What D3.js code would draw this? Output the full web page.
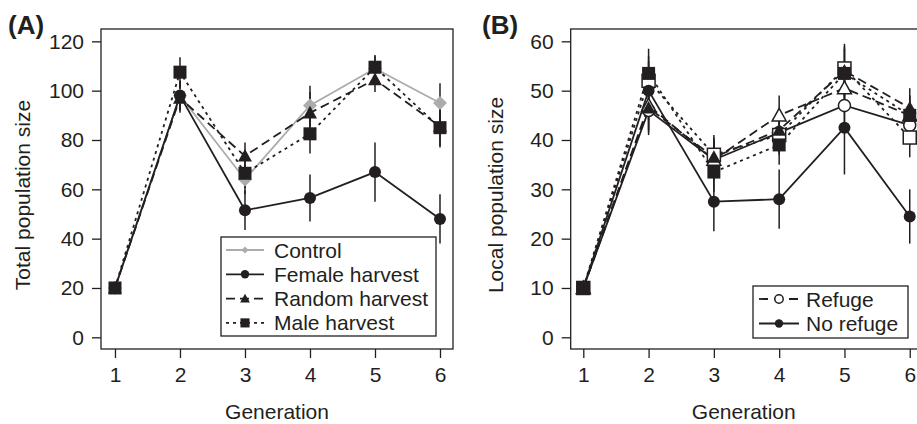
<html>
<head>
  <script src="https://d3js.org/d3.v7.min.js"></script>
  <style>
    body { margin: 0; background: #fff; }
    text { font-family: "Liberation Sans", Arial, sans-serif; fill: #231f20; }
  </style>
</head>
<body>
  <svg id="chart" width="917" height="424"></svg>
  <script>
    const generations = [1, 2, 3, 4, 5, 6];

    // panel A
    const ticksA = [0, 20, 40, 60, 80, 100, 120];
    const controlA = [20, 98, 64, 94, 109, 95];
    const femaleA = [20, 98, 51.5, 56.5, 67, 48];
    const randomA = [20, 97, 73.5, 91, 104.5, 85.5];
    const maleA = [20, 107.5, 66.5, 82.5, 109.5, 85];
    const controlErrA = [0, 6, 6, 8, 5, 8];
    const femaleErrA = [0, 6, 8, 9.5, 12, 10];
    const randomErrA = [0, 6, 5.5, 8.5, 5, 8];
    const maleErrA = [0, 6, 6, 8, 5, 8];

    // panel B
    const ticksB = [0, 10, 20, 30, 40, 50, 60];
    const femaleNoRefB = [10, 50, 27.5, 28, 42.5, 24.5];
    const femaleRefB = [10, 46, 36, 41.5, 47, 43];
    const randomNoRefB = [10, 46.5, 36.5, 42, 54, 46.5];
    const randomRefB = [10, 47, 36, 45, 50.5, 45];
    const maleNoRefB = [10, 53.5, 33.5, 39, 53.5, 45];
    const maleRefB = [10, 52, 37, 41, 54.5, 40.5];
    const femaleNoRefErrB = [0, 6, 6, 6, 9.5, 5.5];
    const otherErrB = [0, 5, 4, 4, 5, 4];

    const ink = "#231f20";
    const fs = 21;
    const svg = d3.select("#chart");

    function drawPanel(opt) {
      const x = d3.scaleLinear().domain(opt.xDomain).range([opt.left, opt.right]);
      const y = d3.scaleLinear().domain(opt.yDomain).range([opt.bottom, opt.top]);
      const g = svg.append("g");

      g.append("rect")
        .attr("x", opt.left).attr("y", opt.top)
        .attr("width", opt.right - opt.left).attr("height", opt.bottom - opt.top)
        .attr("fill", "none").attr("stroke", ink).attr("stroke-width", 1.3);

      const yAxis = g.append("g")
        .attr("transform", `translate(${opt.left},0)`)
        .call(d3.axisLeft(y).tickValues(opt.yTicks).tickSize(9).tickPadding(8));
      const xAxis = g.append("g")
        .attr("transform", `translate(0,${opt.bottom})`)
        .call(d3.axisBottom(x).tickValues(generations).tickFormat(d3.format("d")).tickSize(9).tickPadding(9));
      [xAxis, yAxis].forEach(a => {
        a.select(".domain").remove();
        a.selectAll("line").attr("stroke", ink).attr("stroke-width", 1.3);
        a.selectAll("text").attr("font-size", fs).attr("fill", ink)
          .style("font-family", '"Liberation Sans", Arial, sans-serif');
      });

      g.append("text")
        .attr("x", (opt.left + opt.right) / 2 - opt.titleShift).attr("y", 419)
        .attr("text-anchor", "middle").attr("font-size", fs)
        .text("Generation");
      g.append("text")
        .attr("transform", `translate(${opt.yLabelX},${(opt.top + opt.bottom) / 2 + 6}) rotate(-90)`)
        .attr("text-anchor", "middle").attr("font-size", fs)
        .text(opt.yLabel);
      g.append("text")
        .attr("x", opt.tagX).attr("y", 34)
        .attr("font-size", 26).attr("font-weight", "bold")
        .text(opt.tag);

      const line = d3.line().x((d, i) => x(generations[i])).y(d => y(d));

      opt.series.forEach(s => {
        g.append("path")
          .attr("d", line(s.values))
          .attr("fill", "none")
          .attr("stroke", s.color)
          .attr("stroke-width", 1.8)
          .attr("stroke-dasharray", s.dash);
      });

      opt.series.forEach(s => {
        s.values.forEach((v, i) => {
          const e = s.err[i];
          if (e > 0) {
            g.append("line")
              .attr("x1", x(generations[i])).attr("x2", x(generations[i]))
              .attr("y1", y(v - e)).attr("y2", y(v + e))
              .attr("stroke", ink).attr("stroke-width", 1.5);
          }
        });
      });

      opt.series.forEach(s => {
        s.values.forEach((v, i) => {
          drawMarker(g, s, x(generations[i]), y(v));
        });
      });

      return { x, y, g };
    }

    function drawMarker(g, s, cx, cy, scale = 1) {
      const fill = s.open ? "#fff" : s.markerColor;
      const stroke = s.markerColor;
      const sw = s.open ? 1.5 : 0;
      if (s.shape === "circle") {
        g.append("circle").attr("cx", cx).attr("cy", cy).attr("r", 6 * scale)
          .attr("fill", fill).attr("stroke", stroke).attr("stroke-width", sw);
      } else if (s.shape === "square") {
        const h = 6.5 * scale;
        g.append("rect").attr("x", cx - h).attr("y", cy - h)
          .attr("width", 2 * h).attr("height", 2 * h)
          .attr("fill", fill).attr("stroke", stroke).attr("stroke-width", sw);
      } else if (s.shape === "triangle") {
        const h = 7 * scale;
        g.append("path")
          .attr("d", `M${cx},${cy - h}L${cx + h},${cy + h * 0.8}L${cx - h},${cy + h * 0.8}Z`)
          .attr("fill", fill).attr("stroke", stroke).attr("stroke-width", sw);
      } else if (s.shape === "diamond") {
        const h = 7 * scale;
        g.append("path")
          .attr("d", `M${cx},${cy - h}L${cx + h},${cy}L${cx},${cy + h}L${cx - h},${cy}Z`)
          .attr("fill", fill);
      }
    }

    const dashRandom = "9,5";
    const dashMale = "3,4";

    // ---- Panel A
    const seriesA = [
      { name: "Control", values: controlA, err: controlErrA, color: "#acacac", markerColor: "#acacac", dash: null, shape: "diamond" },
      { name: "Female harvest", values: femaleA, err: femaleErrA, color: ink, markerColor: ink, dash: null, shape: "circle" },
      { name: "Random harvest", values: randomA, err: randomErrA, color: ink, markerColor: ink, dash: dashRandom, shape: "triangle" },
      { name: "Male harvest", values: maleA, err: maleErrA, color: ink, markerColor: ink, dash: dashMale, shape: "square" }
    ];

    const panelA = drawPanel({
      left: 101, right: 453, top: 29, bottom: 349,
      xDomain: [0.785, 6.2], yDomain: [-4.74, 125],
      yTicks: ticksA, yLabel: "Total population size", yLabelX: 30,
      tag: "(A)", tagX: 8, titleShift: 0,
      series: seriesA
    });

    // legend A
    const legA = panelA.g.append("g");
    legA.append("rect").attr("x", 221).attr("y", 237).attr("width", 215).attr("height", 99)
      .attr("fill", "#fff").attr("stroke", ink).attr("stroke-width", 1.3);
    seriesA.forEach((s, i) => {
      const ly = 250 + i * 24.3;
      legA.append("line").attr("x1", 226).attr("x2", 264).attr("y1", ly).attr("y2", ly)
        .attr("stroke", s.color).attr("stroke-width", 1.8).attr("stroke-dasharray", s.dash);
      drawMarker(legA, s, 245, ly, s.shape === "diamond" ? 0.5 : 0.7);
      legA.append("text").attr("x", 274).attr("y", ly + 7.5).attr("font-size", fs).text(s.name);
    });

    // ---- Panel B
    const seriesB = [
      { values: femaleRefB, err: otherErrB, color: ink, markerColor: ink, dash: null, shape: "circle", open: true },
      { values: randomRefB, err: otherErrB, color: ink, markerColor: ink, dash: dashRandom, shape: "triangle", open: true },
      { values: maleRefB, err: otherErrB, color: ink, markerColor: ink, dash: dashMale, shape: "square", open: true },
      { values: randomNoRefB, err: otherErrB, color: ink, markerColor: ink, dash: dashRandom, shape: "triangle", open: false },
      { values: maleNoRefB, err: otherErrB, color: ink, markerColor: ink, dash: dashMale, shape: "square", open: false },
      { values: femaleNoRefB, err: femaleNoRefErrB, color: ink, markerColor: ink, dash: null, shape: "circle", open: false }
    ];

    const panelB = drawPanel({
      left: 570.7, right: 922.8, top: 29, bottom: 349,
      xDomain: [0.807, 6.2], yDomain: [-2.37, 62.5],
      yTicks: ticksB, yLabel: "Local population size", yLabelX: 503,
      tag: "(B)", tagX: 482, titleShift: 3,
      series: seriesB
    });

    // legend B
    const legendB = [
      { name: "Refuge", dash: "9,6", shape: "circle", open: true, markerColor: ink },
      { name: "No refuge", dash: null, shape: "circle", open: false, markerColor: ink }
    ];
    const legB = panelB.g.append("g");
    legB.append("rect").attr("x", 753).attr("y", 286).attr("width", 155).attr("height", 52)
      .attr("fill", "#fff").attr("stroke", ink).attr("stroke-width", 1.3);
    legendB.forEach((s, i) => {
      const ly = 299 + i * 24.5;
      legB.append("line").attr("x1", 759).attr("x2", 799).attr("y1", ly).attr("y2", ly)
        .attr("stroke", ink).attr("stroke-width", 1.8).attr("stroke-dasharray", s.dash);
      drawMarker(legB, s, 779, ly, 0.7);
      legB.append("text").attr("x", 806).attr("y", ly + 7.5).attr("font-size", fs).text(s.name);
    });
  </script>
</body>
</html>
